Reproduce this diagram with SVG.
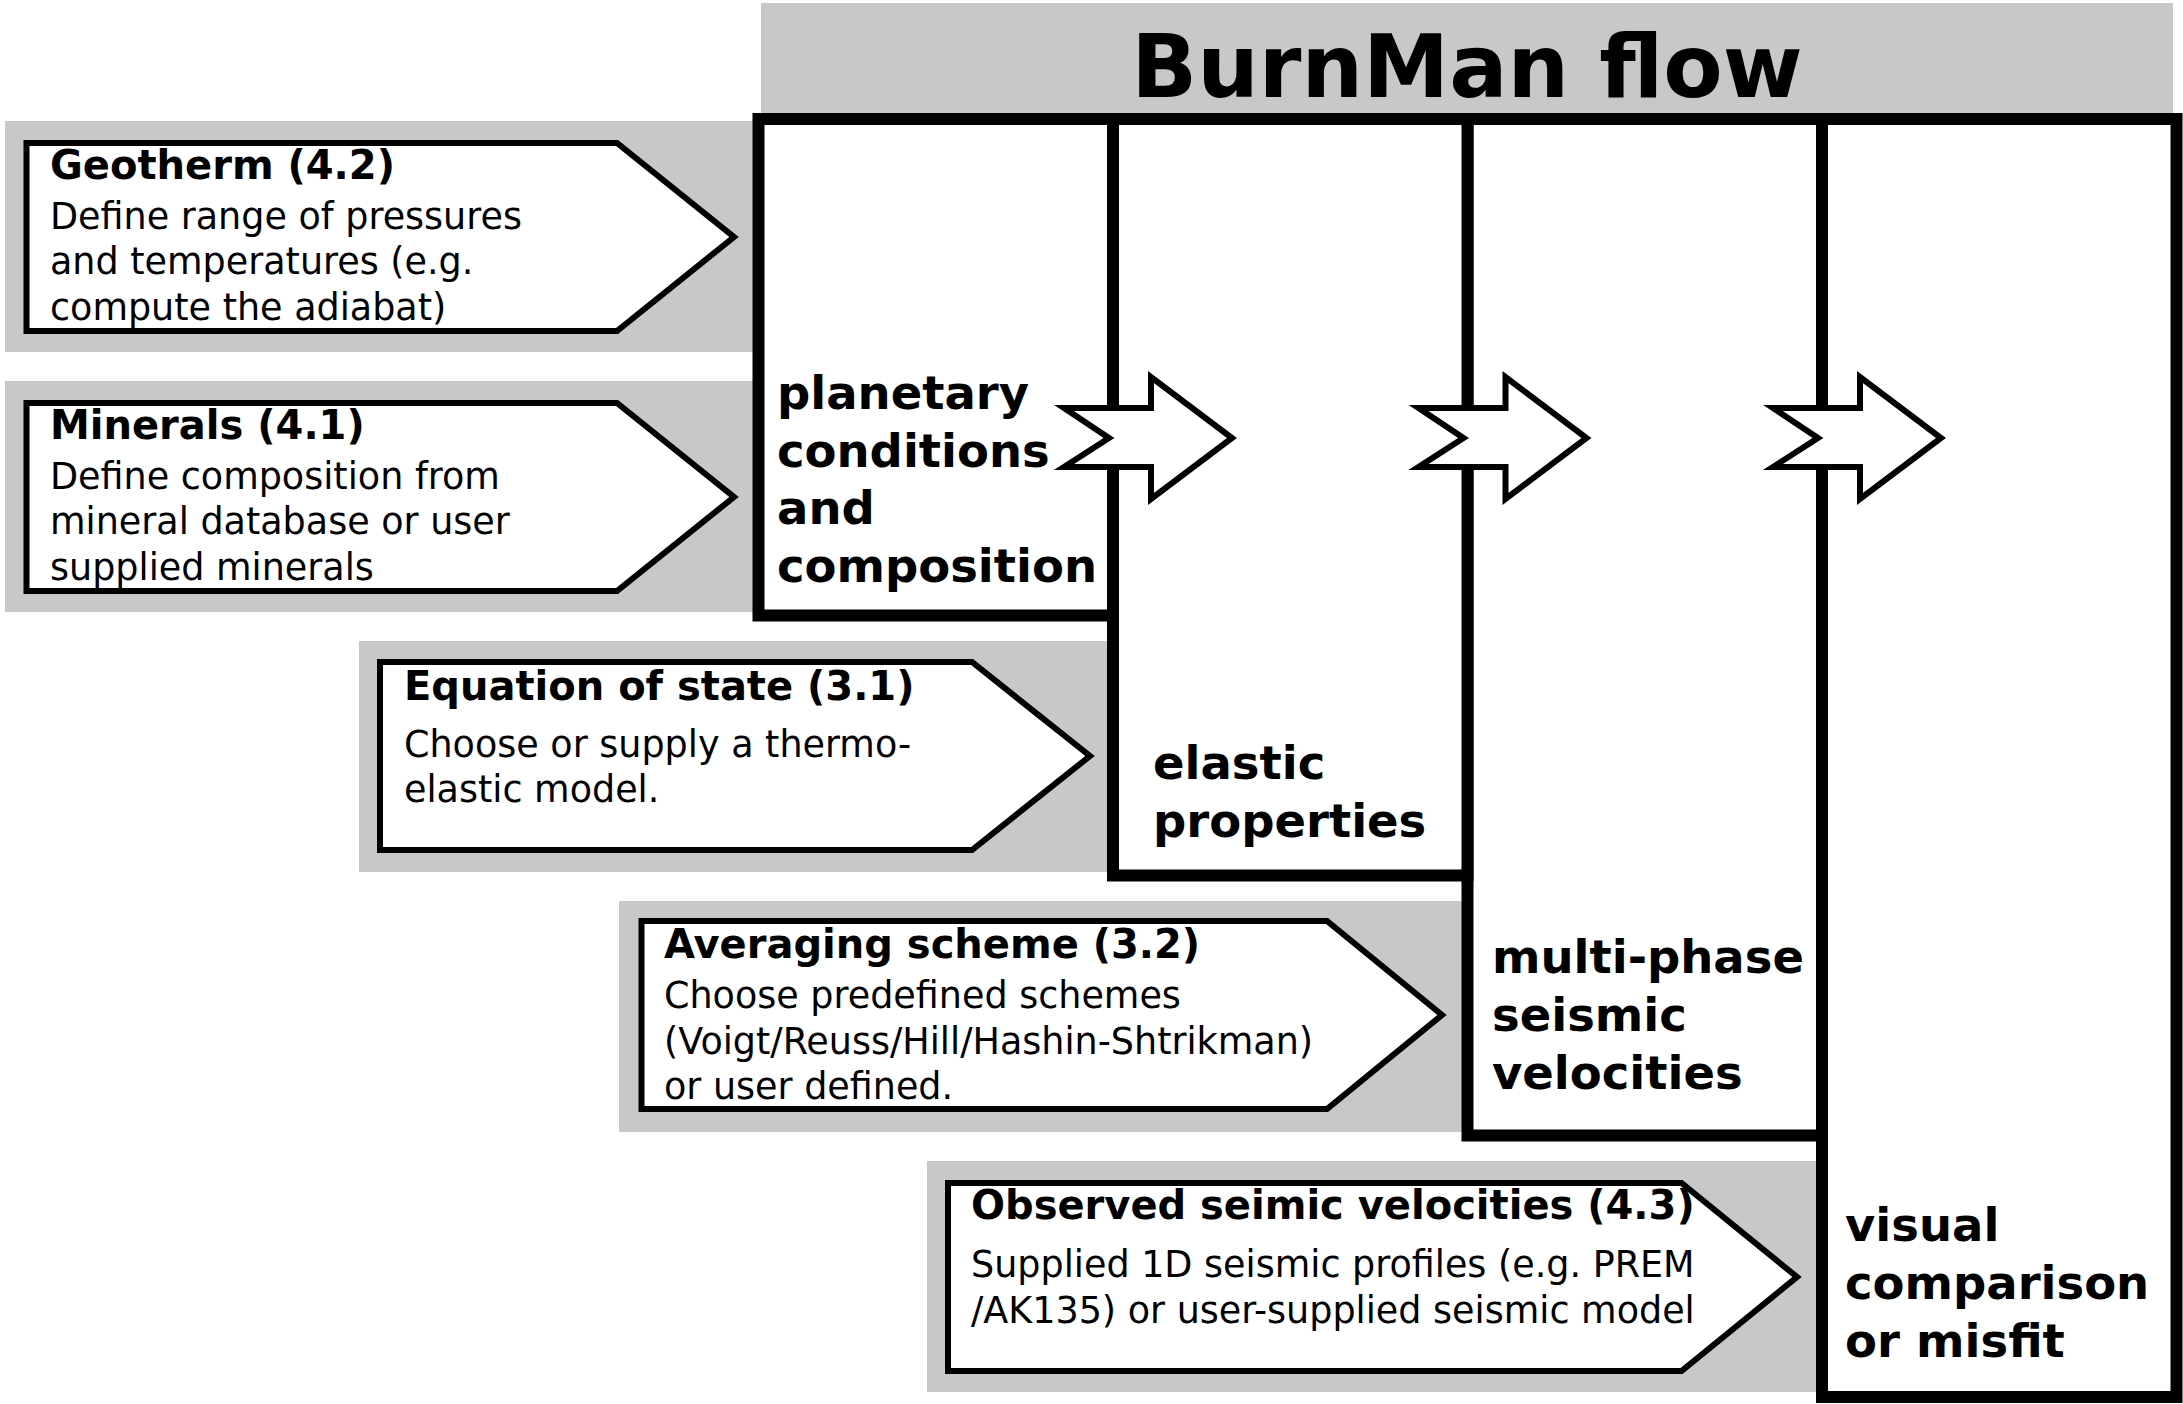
<svg xmlns="http://www.w3.org/2000/svg" width="2183" height="1404" viewBox="0 0 2183 1404">
<style>
.band{fill:#c8c8c8}
.pent{fill:#fff;stroke:#000;stroke-width:6}
.box{fill:#fff;stroke:#000;stroke-width:12}
.arr{fill:#fff;stroke:#000;stroke-width:6;stroke-linejoin:miter}
text{font-family:"DejaVu Sans","Liberation Sans",sans-serif;fill:#000}
.t{font-size:40px;font-weight:bold}
.b{font-size:36.5px}
.big{font-size:46.5px;font-weight:bold}
.title{font-size:86.5px;font-weight:bold}
</style>
<rect class="band" x="761" y="3" width="1412" height="112"/>
<text class="title" x="1467" y="96.5" text-anchor="middle">BurnMan flow</text>

<g id="geotherm">
<rect class="band" x="5" y="121" width="751" height="231"/>
<polygon class="pent" points="26.5,143 617,143 734,237 617,331 26.5,331"/>
<text class="t" x="50" y="178.5">Geotherm (4.2)</text>
<text class="b" x="50" y="228.5">Define range of pressures</text>
<text class="b" x="50" y="274">and temperatures (e.g.</text>
<text class="b" x="50" y="319.5">compute the adiabat)</text>
</g>
<g id="minerals">
<rect class="band" x="5" y="381" width="751" height="231"/>
<polygon class="pent" points="26.5,403 617,403 734,497 617,591 26.5,591"/>
<text class="t" x="50" y="438.5">Minerals (4.1)</text>
<text class="b" x="50" y="488.5">Define composition from</text>
<text class="b" x="50" y="534">mineral database or user</text>
<text class="b" x="50" y="579.5">supplied minerals</text>
</g>
<g id="eos">
<rect class="band" x="359" y="641" width="751" height="231"/>
<polygon class="pent" points="380,662 972,662 1090,756 972,850 380,850"/>
<text class="t" x="404" y="699.5">Equation of state (3.1)</text>
<text class="b" x="404" y="757">Choose or supply a thermo-</text>
<text class="b" x="404" y="802">elastic model.</text>
</g>
<g id="averaging">
<rect class="band" x="619" y="901" width="846" height="231"/>
<polygon class="pent" points="641.5,921 1327,921 1442,1015 1327,1109 641.5,1109"/>
<text class="t" x="664" y="958">Averaging scheme (3.2)</text>
<text class="b" x="664" y="1008">Choose predefined schemes</text>
<text class="b" x="664" y="1053.5">(Voigt/Reuss/Hill/Hashin-Shtrikman)</text>
<text class="b" x="664" y="1099">or user defined.</text>
</g>
<g id="observed">
<rect class="band" x="927" y="1161" width="893" height="231"/>
<polygon class="pent" points="948,1183 1681.5,1183 1797,1277 1681.5,1371 948,1371"/>
<text class="t" x="971" y="1219">Observed seimic velocities (4.3)</text>
<text class="b" x="971" y="1277">Supplied 1D seismic profiles (e.g. PREM</text>
<text class="b" x="971" y="1323">/AK135) or user-supplied seismic model</text>
</g>

<g id="visual">
<rect class="box" x="1822" y="119" width="354.5" height="1278"/>
<text class="big" x="1845" y="1241">visual</text>
<text class="big" x="1845" y="1299">comparison</text>
<text class="big" x="1845" y="1357">or misfit</text>
</g>
<g id="multiphase">
<rect class="box" x="1467.5" y="119" width="354.5" height="1016.5"/>
<text class="big" x="1492" y="973">multi-phase</text>
<text class="big" x="1492" y="1031">seismic</text>
<text class="big" x="1492" y="1089">velocities</text>
</g>
<g id="elastic">
<rect class="box" x="1113" y="119" width="354.5" height="756.5"/>
<text class="big" x="1153" y="779">elastic</text>
<text class="big" x="1153" y="837">properties</text>
</g>
<g id="planetary">
<rect class="box" x="758.5" y="119" width="354.5" height="496.5"/>
<text class="big" x="777" y="409">planetary</text>
<text class="big" x="777" y="466.5">conditions</text>
<text class="big" x="777" y="524">and</text>
<text class="big" x="777" y="581.5">composition</text>
</g>

<g id="connectors">
<polygon class="arr" points="1064,408 1151,408 1151,377 1232,438 1151,499 1151,467 1064,467 1109,438"/>
<polygon class="arr" transform="translate(354.5,0)" points="1064,408 1151,408 1151,377 1232,438 1151,499 1151,467 1064,467 1109,438"/>
<polygon class="arr" transform="translate(709,0)" points="1064,408 1151,408 1151,377 1232,438 1151,499 1151,467 1064,467 1109,438"/>
</g>
</svg>
